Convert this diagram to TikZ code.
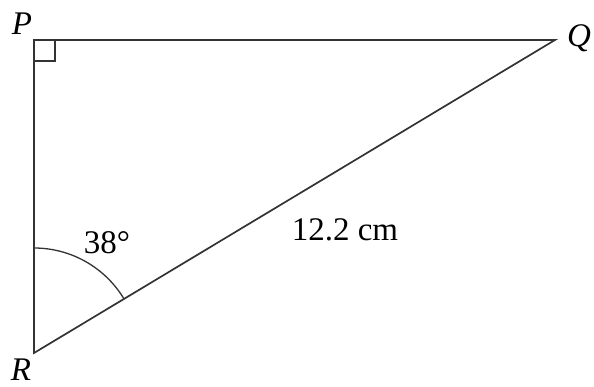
\documentclass[tikz,border=0pt]{standalone}
\usepackage{fontspec}
\setmainfont{Liberation Serif}
\usetikzlibrary{positioning}

\begin{document}
\begin{tikzpicture}[x=1pt, y=1pt, line width=1.7pt, draw=black!80,
    vertex/.style={font=\fontsize{33}{40}\selectfont\itshape, inner sep=0pt},
    lbl/.style={font=\fontsize{33}{40}\selectfont, inner sep=0pt}]
  \useasboundingbox (0,0) rectangle (594,387);
  % corners of the triangle
  \coordinate (P) at (34,347);
  \coordinate (Q) at (555,347);
  \coordinate (R) at (34,34);
  \draw (P) -- (Q) -- (R) -- cycle;
  % right angle at P
  \draw[line width=1.3pt] (P) ++(0,-21) -- ++(21,0) -- ++(0,21);
  % angle at R
  \draw[line width=1.3pt] (R) ++(0,105) arc[start angle=90, end angle=31, radius=105];
  \node[vertex] (p) at (22,363) {P};
  \node[vertex] (q) at (579,349) {Q};
  \node[vertex] (r) at (21,17) {R};
  \node[lbl] (ang) at (107,144) {38°};
  \node[lbl] (len) at (345,157) {12.2 cm};
\end{tikzpicture}
\end{document}
